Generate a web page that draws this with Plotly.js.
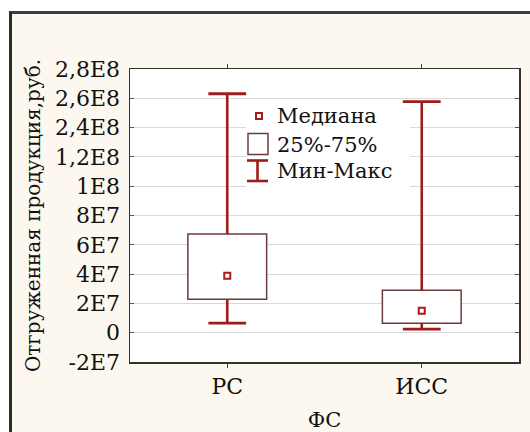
<!DOCTYPE html>
<html>
<head>
<meta charset="utf-8">
<script src="https://cdn.plot.ly/plotly-3.0.1.min.js"></script>
<style>
  html, body { margin:0; padding:0; background:#ffffff; width:530px; height:432px; overflow:hidden; }
  #frame { position:absolute; left:9px; top:11px; width:518px; height:418px;
           border-left:3px solid #2b2b2b; border-top:3px solid #3c3c3c; background:#fdf8ef; }
  #chart { width:518px; height:418px; }
</style>
</head>
<body>
<div id="frame"><div id="chart"></div></div>
<script>
// ---- data (in axis units) ----
const categories = ['РС', 'ИСС'];
const minVals    = [6.6e6, 2.5e6];
const q1Vals     = [2.28e7, 6.4e6];
const medianVals = [3.89e7, 1.5e7];
const q3Vals     = [6.74e7, 2.89e7];
const maxVals    = [1.631e8, 1.577e8];

const tickVals   = [-2e7, 0, 2e7, 4e7, 6e7, 8e7, 1e8, 1.2e8, 1.4e8, 1.6e8, 1.8e8];
const tickLabels = ['-2E7', '0', '2E7', '4E7', '6E7', '8E7', '1E8', '1,2E8', '2,4E8', '2,6E8', '2,8E8'];

const legendLabels = ['Медиана', '25%-75%', 'Мин-Макс'];
const xTitle = 'ФС';
const yTitle = 'Отгруженная продукция,руб.';

// ---- styles ----
const FONT = 'DejaVu Serif, Liberation Serif, serif';
const whiskerColor = '#9e1c1c';
const boxColor = '#6b3b3b';
const medianColor = '#b01818';

// whisker segments built from data
const wx = [], wy = [];
categories.forEach((c, i) => {
  wx.push(c, c, null, c, c, null);
  wy.push(q3Vals[i], maxVals[i], null, q1Vals[i], minVals[i], null);
});

const traces = [
  { type:'bar', x:categories, base:q1Vals, y:q3Vals.map((v,i)=>v-q1Vals[i]), width:0.405,
    marker:{color:'#ffffff', line:{color:boxColor, width:1.5}}, showlegend:false, hoverinfo:'skip' },
  { type:'scatter', mode:'lines', x:wx, y:wy, line:{color:whiskerColor, width:2.6},
    showlegend:false, hoverinfo:'skip', connectgaps:false },
  { type:'scatter', mode:'markers', x:categories.concat(categories), y:maxVals.concat(minVals),
    marker:{symbol:'line-ew', size:27, color:whiskerColor, line:{color:whiskerColor, width:2.8}},
    showlegend:false, hoverinfo:'skip' },
  { type:'scatter', mode:'markers', x:categories, y:medianVals,
    marker:{symbol:'square-open', size:6, color:medianColor, line:{color:medianColor, width:2}},
    showlegend:false, hoverinfo:'skip' }
];

// manual legend (Statistica style) in paper coordinates
const W = 389, H = 293, L = 130, B = 362;
const px = v => (v - L) / W;
const py = v => (B - v) / H;
const shapes = [
  { type:'rect', xref:'paper', yref:'paper', x0:px(246), x1:px(410), y0:py(187), y1:py(103),
    fillcolor:'#ffffff', line:{width:0}, layer:'above' },
  { type:'rect', xref:'paper', yref:'paper', x0:px(256), x1:px(262), y0:py(119), y1:py(113),
    line:{color:medianColor, width:2}, fillcolor:'#ffffff', layer:'above' },
  { type:'rect', xref:'paper', yref:'paper', x0:px(248), x1:px(268), y0:py(154.5), y1:py(133.5),
    line:{color:boxColor, width:1.5}, fillcolor:'#ffffff', layer:'above' },
  { type:'line', xref:'paper', yref:'paper', x0:px(247), x1:px(268), y0:py(160.5), y1:py(160.5),
    line:{color:whiskerColor, width:2.6}, layer:'above' },
  { type:'line', xref:'paper', yref:'paper', x0:px(247), x1:px(268), y0:py(181), y1:py(181),
    line:{color:whiskerColor, width:2.6}, layer:'above' },
  { type:'line', xref:'paper', yref:'paper', x0:px(257.5), x1:px(257.5), y0:py(160.5), y1:py(181),
    line:{color:whiskerColor, width:2.6}, layer:'above' }
];
const legendY = [116, 145, 171];
const annotations = legendLabels.map((t, i) => ({
  text:t, xref:'paper', yref:'paper', x:px(275), y:py(legendY[i]), xanchor:'left', yanchor:'middle',
  showarrow:false, font:{family:FONT, size:21, color:'#111'}
}));

const layout = {
  width:518, height:418,
  margin:{l:118, r:11, t:55, b:70},
  paper_bgcolor:'#fdf8ef', plot_bgcolor:'#ffffff',
  showlegend:false,
  font:{family:FONT, color:'#111', size:20},
  xaxis:{ type:'category', categoryorder:'array', categoryarray:categories, range:[-0.5, 1.5],
    showline:true, linecolor:'#333', linewidth:1.5, mirror:'ticks',
    ticks:'outside', ticklen:4, tickcolor:'#444', showgrid:false, zeroline:false,
    tickfont:{family:FONT, size:22, color:'#111'},
    title:{text:xTitle, font:{family:FONT, size:21, color:'#111'}, standoff:14} },
  yaxis:{ range:[-2e7, 1.8e8], tickvals:tickVals, ticktext:tickLabels,
    showline:true, linecolor:'#333', linewidth:1.5, mirror:'ticks',
    ticks:'inside', ticklen:4, tickcolor:'#555', showgrid:true, gridcolor:'#d9d9d9', gridwidth:1,
    zeroline:false, ticklabelstandoff:4,
    tickfont:{family:FONT, size:22, color:'#111'},
    title:{text:yTitle, font:{family:FONT, size:20, color:'#111'}, standoff:9} },
  shapes:shapes, annotations:annotations
};

Plotly.newPlot('chart', traces, layout, {displayModeBar:false, staticPlot:true});
</script>
</body>
</html>
